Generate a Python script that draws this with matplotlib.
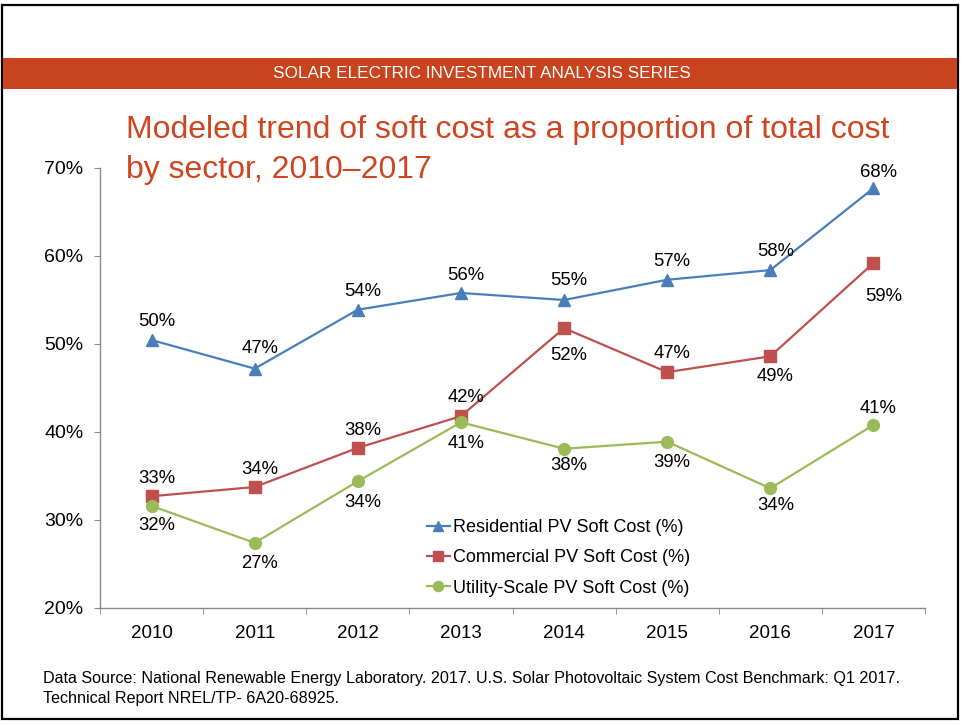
import matplotlib
matplotlib.use("Agg")
import matplotlib.pyplot as plt
from matplotlib.patches import Rectangle
from matplotlib.ticker import FixedLocator, FuncFormatter

years = ["2010", "2011", "2012", "2013", "2014", "2015", "2016", "2017"]
residential = [50.45, 47.2, 53.9, 55.8, 55.0, 57.3, 58.4, 67.7]
commercial = [32.7, 33.75, 38.2, 41.8, 51.8, 46.8, 48.6, 59.2]
utility = [31.6, 27.4, 34.4, 41.1, 38.1, 38.9, 33.6, 40.8]

series_names = [
    "Residential PV Soft Cost (%)",
    "Commercial PV Soft Cost (%)",
    "Utility-Scale PV Soft Cost (%)",
]

# label offsets in pixels (+ above, - below)
res_dy = [19, 20, 18, 17, 19, 18, 19, 16]
com_dy = [18, 17, 17, 19, -27, 19, -20, -33]
uti_dy = [-20, -21, -21, -21, -17, -21, -17, 16]

BLUE = "#4A7EBB"
RED = "#C0504D"
GREEN = "#9BBB59"
ORANGE = "#C9431F"

plt.rcParams["font.family"] = ["Liberation Sans", "DejaVu Sans"]

W, H = 965, 725
fig = plt.figure(figsize=(W / 100, H / 100), dpi=100)

# frame and banner
fig.patches.append(Rectangle((2 / W, 6 / H), 956 / W, 714 / H, transform=fig.transFigure,
                             fill=False, edgecolor="black", linewidth=1.6))
fig.patches.append(Rectangle((3 / W, (H - 89) / H), 954 / W, 31 / H, transform=fig.transFigure,
                             facecolor=ORANGE, edgecolor="none"))
fig.text(482 / W, (H - 73.5) / H, "SOLAR ELECTRIC INVESTMENT ANALYSIS SERIES",
         color="white", fontsize=12.4, ha="center", va="center")

ax = fig.add_axes([100 / W, (H - 608) / H, 825 / W, 440 / H])
x = list(range(len(years)))

ax.plot(x, residential, color=BLUE, lw=1.6, marker="^", ms=9, label=series_names[0])
ax.plot(x, commercial, color=RED, lw=1.6, marker="s", ms=8.5, label=series_names[1])
ax.plot(x, utility, color=GREEN, lw=1.6, marker="o", ms=8.5, label=series_names[2])

for vals, dys in ((residential, res_dy), (commercial, com_dy), (utility, uti_dy)):
    for i, (v, dy) in enumerate(zip(vals, dys)):
        dx = 10 if (dy == -33) else 5
        ax.annotate(f"{round(v)}%", (i, v), xytext=(dx * 0.72, dy * 0.72),
                    textcoords="offset points", ha="center", va="center", fontsize=13.3)

ax.set_xlim(-0.5, 7.5)
ax.set_ylim(20, 70)
ax.set_yticks([20, 30, 40, 50, 60, 70])
ax.yaxis.set_major_formatter(FuncFormatter(lambda v, p: f"{v:.0f}%"))
ax.set_xticks(x)
ax.set_xticklabels(years)
ax.xaxis.set_minor_locator(FixedLocator([i - 0.5 for i in range(len(years) + 1)]))
ax.tick_params(axis="x", which="major", length=0, pad=12, labelsize=13.5)
ax.tick_params(axis="x", which="minor", length=4, color="#898989", direction="out")
ax.tick_params(axis="y", length=4, color="#898989", pad=8, labelsize=14)

for side in ("top", "right"):
    ax.spines[side].set_visible(False)
for side in ("left", "bottom"):
    ax.spines[side].set_color("#898989")
    ax.spines[side].set_linewidth(1.0)

ax.legend(loc="upper left", bbox_to_anchor=(327 / 825, 1 - (519 - 168) / 440),
          frameon=False, fontsize=13, handlelength=1.25, handletextpad=0.2,
          labelspacing=0.74, borderpad=0, borderaxespad=0, markerscale=0.85)

fig.text(126 / W, (H - 130) / H, "Modeled trend of soft cost as a proportion of total cost",
         color="#CF4520", fontsize=23, ha="left", va="center")
fig.text(126 / W, (H - 170) / H, "by sector, 2010\u20132017",
         color="#CF4520", fontsize=23, ha="left", va="center")

fig.text(43 / W, (H - 679) / H,
         "Data Source: National Renewable Energy Laboratory. 2017. U.S. Solar Photovoltaic System Cost Benchmark: Q1 2017.",
         fontsize=11.6, ha="left", va="center")
fig.text(43 / W, (H - 699) / H, "Technical Report NREL/TP- 6A20-68925.",
         fontsize=11.6, ha="left", va="center")

fig.savefig("out.png", dpi=100)
